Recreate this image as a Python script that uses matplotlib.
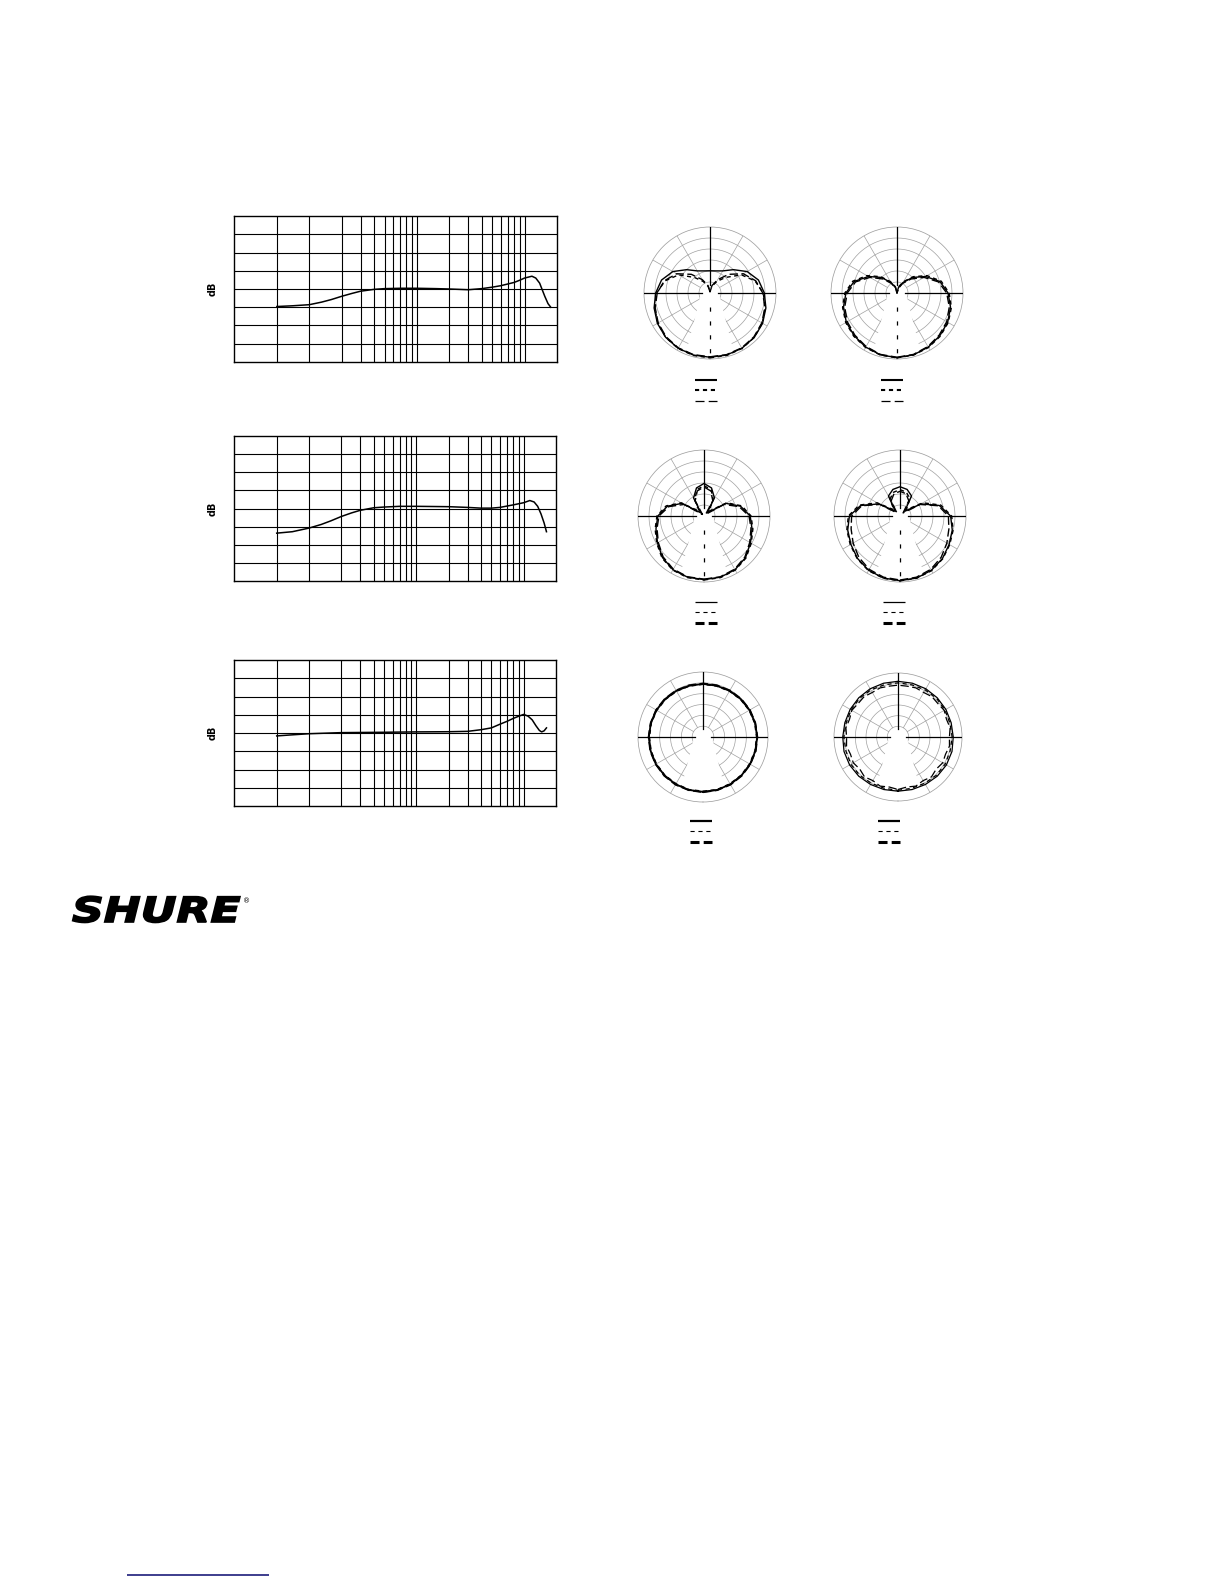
import numpy as np
import matplotlib
matplotlib.use("Agg")
import matplotlib.pyplot as plt
import matplotlib.patheffects as pe
from matplotlib.transforms import Affine2D

plt.rcParams["lines.scale_dashes"] = False

W, H = 1224, 1584
GREY = "#a0a0a0"

# ---- frequency response curves (Hz, dB) ----
freq_1 = [50, 70, 100, 130, 160, 200, 250, 300, 400, 500, 700, 1000, 1500, 2000,
          3000, 4000, 5000, 6000, 8000, 9000, 10000, 11700, 12700, 13800, 15400, 16500, 17500]
db_1 = [-4.8, -4.6, -4.3, -3.6, -2.9, -2.0, -1.2, -0.6, -0.1, 0.1, 0.2, 0.2, 0.1, 0.0,
        -0.2, 0.1, 0.5, 0.9, 1.8, 2.4, 3.0, 3.5, 3.0, 1.6, -2.0, -4.0, -5.0]

freq_2 = [50, 70, 100, 130, 160, 200, 250, 300, 400, 500, 700, 1000, 2000, 3000,
          4000, 5000, 6000, 8000, 10000, 11400, 12500, 13500, 14500, 15500, 16300]
db_2 = [-6.8, -6.4, -5.4, -4.4, -3.4, -2.2, -1.2, -0.5, 0.2, 0.4, 0.6, 0.6, 0.5, 0.3,
        0.1, 0.1, 0.3, 1.0, 1.6, 2.2, 1.8, 0.6, -1.5, -4.0, -6.4]

freq_3 = [50, 70, 100, 200, 500, 1000, 2000, 3000, 4000, 5000, 6000, 7000, 8000,
          9000, 10000, 11000, 12000, 13000, 14000, 14700, 15500, 16300]
db_3 = [-0.8, -0.5, -0.2, 0.1, 0.2, 0.3, 0.35, 0.45, 0.9, 1.4, 2.4, 3.2, 4.0,
        4.6, 5.1, 4.6, 3.6, 2.0, 0.7, 0.3, 0.6, 1.4]

grid_freqs = [50, 100, 200, 300, 400, 500, 600, 700, 800, 900,
              1000, 2000, 3000, 4000, 5000, 6000, 7000, 8000, 9000, 10000]
grid_db = [-15, -10, -5, 0, 5, 10, 15]

# ---- polar patterns: dB vs angle from front (0 = bottom), one half ----
angles = [0, 15, 30, 45, 60, 75, 90, 105, 120, 135, 150, 165, 180]

p1_a = [-0.8, -0.8, -1.0, -1.5, -2.4, -3.7, -5.3, -7.2, -10.5, -15.0, -18.4, -19.6, -19.9]
p1_b = [-0.5, -0.6, -0.9, -1.5, -2.6, -4.0, -5.8, -8.8, -13.5, -20.0, -24.0, -27.0, -29.5]
p1_c = [-1.0, -1.0, -1.2, -1.8, -2.8, -4.2, -6.0, -8.5, -12.5, -18.0, -23.0, -26.5, -29.5]

p2_a = [-0.6, -0.9, -1.6, -2.5, -3.4, -4.8, -6.8, -9.8, -15.0, -20.0, -24.5, -27.5, -30.0]
p2_b = [-0.5, -0.8, -1.4, -2.2, -3.1, -4.4, -6.3, -9.2, -14.2, -19.5, -24.0, -27.0, -30.0]
p2_c = [-0.8, -1.1, -1.9, -2.9, -3.9, -5.4, -7.4, -10.5, -15.8, -21.0, -25.0, -28.0, -30.0]

p3_a = [-1.1, -1.2, -1.8, -3.3, -5.6, -7.4, -9.0, -12.8, -18.5, -28.0, -20.5, -16.8, -15.2]
p3_b = [-0.9, -1.0, -1.6, -3.0, -5.2, -7.0, -8.6, -12.2, -18.0, -27.0, -21.5, -17.6, -16.2]
p3_c = [-1.3, -1.4, -2.1, -3.7, -6.0, -7.9, -9.5, -13.5, -19.5, -29.0, -22.0, -18.2, -16.8]

p4_a = [-0.6, -0.8, -1.5, -2.7, -4.2, -5.4, -7.0, -11.5, -19.0, -27.0, -19.5, -17.5, -16.7]
p4_b = [-0.5, -0.7, -1.3, -2.5, -3.9, -5.0, -6.5, -10.8, -18.0, -26.0, -21.0, -18.8, -18.0]
p4_c = [-0.9, -1.2, -2.0, -3.5, -5.4, -7.0, -8.0, -12.0, -19.5, -28.0, -22.0, -19.5, -18.8]

p5_a = [-4.7, -4.7, -4.8, -4.9, -4.9, -5.0, -5.0, -5.1, -5.2, -5.3, -5.4, -5.5, -5.5]
p5_b = [-4.9, -4.8, -5.0, -5.0, -5.1, -5.1, -5.2, -5.2, -5.3, -5.4, -5.5, -5.6, -5.6]
p5_c = [-4.5, -4.6, -4.6, -4.7, -4.8, -4.8, -4.9, -5.0, -5.0, -5.1, -5.2, -5.3, -5.3]

p6_a = [-4.6, -4.5, -4.3, -4.0, -3.8, -3.8, -4.1, -4.2, -4.1, -4.0, -3.9, -3.9, -3.9]
p6_b = [-5.0, -5.1, -5.0, -4.6, -4.5, -4.7, -4.6, -4.8, -4.6, -4.4, -4.5, -4.7, -4.6]
angles_fine = [0, 10, 20, 30, 40, 50, 60, 70, 80, 90, 100, 110, 120, 130, 140, 150, 160, 170, 180]
p6_c = [-5.4, -6.2, -5.5, -6.4, -5.6, -6.6, -5.8, -6.3, -5.5, -5.9, -5.2, -5.8, -5.0,
        -5.6, -5.3, -5.9, -5.5, -5.8, -5.7]

ring_db = [-25, -20, -15, -10, -5]
spoke_deg = [30, 60, 120, 150, 210, 240, 300, 330]

fig = plt.figure(figsize=(W / 100, H / 100), dpi=100)
fig.patch.set_facecolor("white")

page = fig.add_axes([0, 0, 1, 1])
page.set_xlim(0, W)
page.set_ylim(H, 0)
page.axis("off")


def px_axes(x0, y0, x1, y1, **kw):
    return fig.add_axes([x0 / W, 1 - y1 / H, (x1 - x0) / W, (y1 - y0) / H], **kw)


def freq_chart(box, f, db):
    ax = px_axes(*box)
    ax.set_xscale("log")
    ax.set_xlim(20, 20000)
    ax.set_ylim(-20, 20)
    for g in grid_freqs:
        ax.axvline(g, color="black", lw=0.8)
    for g in grid_db:
        ax.axhline(g, color="black", lw=0.8)
    ax.plot(f, db, color="black", lw=1.1)
    ax.set_xticks([])
    ax.set_yticks([])
    ax.minorticks_off()
    for s in ax.spines.values():
        s.set_linewidth(1.0)
    ax.text(-0.065, 0.5, "dB", transform=ax.transAxes, rotation=90,
            ha="center", va="center", fontsize=7, fontweight="bold")


def full_circle(ang, vals):
    t = np.deg2rad(list(ang) + [360 - a for a in ang[-2::-1]])
    v = list(vals) + list(vals[-2::-1])
    return t, v


def polar_chart(cx, cy, R, curves, lower_axis, lw):
    ax = px_axes(cx - R, cy - R, cx + R, cy + R, projection="polar")
    ax.set_theta_zero_location("S")
    ax.set_ylim(-30, 0)
    ax.set_xticks([])
    ax.set_yticks([])
    ax.grid(False)
    ax.spines["polar"].set_color(GREY)
    ax.spines["polar"].set_linewidth(0.55)

    def to_db(px):
        return -30 + 30 * np.asarray(px, dtype=float) / R

    t = np.linspace(0, 2 * np.pi, 361)
    for r in ring_db:
        ax.plot(t, np.full_like(t, r), color=GREY, lw=0.5, zorder=1)
    for a in spoke_deg:
        ax.plot(np.deg2rad([a, a]), [ring_db[0], 0], color=GREY, lw=0.5, zorder=1)

    # white keyhole left where the scale labels were
    kx = np.array([-8.0, 8.0, 24.0, -24.0])
    ky = np.array([-3.0, -3.0, 60.0, 60.0])
    ax.fill(np.arctan2(kx, ky), to_db(np.hypot(kx, ky)), color="white", lw=0, zorder=2)
    ax.fill(t, np.full_like(t, float(to_db(8))), color="white", lw=0, zorder=2)

    for a in (90, 180, 270):
        ax.plot(np.deg2rad([a, a]), [to_db(8), 0], color="black", lw=0.9, zorder=4)
    if lower_axis:
        ax.plot([0, 0], [to_db(14), 0], color="black", lw=0.9,
                ls=(0, (3, 7)), zorder=4)

    styles = ["-", (0, (3, 2.5)), (0, (6, 2.5))]
    for (ang, vals), ls in zip(curves, styles):
        th, v = full_circle(ang, vals)
        ax.plot(th, v, color="black", lw=lw, ls=ls, zorder=3)
    return ax


def legend(x0, y0, styles):
    for i, (ls, w) in enumerate(styles):
        page.plot([x0, x0 + 22], [y0 + 10.3 * i] * 2, color="black", ls=ls, lw=w,
                  solid_capstyle="butt", dash_capstyle="butt")


class Stretch(pe.AbstractPathEffect):
    """Widen text horizontally and give it a heavier outline."""

    def __init__(self, sx, width):
        super().__init__()
        self.sx = sx
        self.width = width

    def draw_path(self, renderer, gc, tpath, affine, rgbFace=None):
        gc0 = renderer.new_gc()
        gc0.copy_properties(gc)
        gc0.set_linewidth(self.width)
        gc0.set_foreground("black")
        gc0.set_joinstyle("miter")
        renderer.draw_path(gc0, tpath, Affine2D().scale(self.sx, 1) + affine, rgbFace)
        gc0.restore()


freq_chart((234, 216, 557, 362), freq_1, db_1)
freq_chart((234, 436, 556, 581), freq_2, db_2)
freq_chart((234, 660, 556, 806), freq_3, db_3)

polar_chart(710, 293, 66, [(angles, p1_a), (angles, p1_b), (angles, p1_c)], True, 1.0)
polar_chart(897, 293, 66, [(angles, p2_a), (angles, p2_b), (angles, p2_c)], True, 1.0)
polar_chart(704, 516, 66, [(angles, p3_a), (angles, p3_b), (angles, p3_c)], True, 1.0)
polar_chart(900, 516, 66, [(angles, p4_a), (angles, p4_b), (angles, p4_c)], True, 1.0)
polar_chart(703, 737, 65, [(angles, p5_a), (angles, p5_b), (angles, p5_c)], False, 1.3)
polar_chart(898, 737, 64, [(angles, p6_a), (angles, p6_b), (angles_fine, p6_c)], False, 0.9)

short = (0, (3, 2.7))
long_ = (0, (6.5, 3))
row1 = [("-", 1.5), (short, 1.5), (long_, 0.9)]
row2 = [("-", 0.9), (short, 0.8), (long_, 2.2)]
row3 = [("-", 1.6), (short, 0.8), (long_, 2.2)]
legend(695, 380, row1)
legend(881, 380, row1)
legend(695, 602, row2)
legend(883, 602, row2)
legend(690, 821, row3)
legend(878, 821, row3)

# logo and link underline
page.text(72, 922, "SHURE", fontsize=25, fontweight="bold", fontstyle="italic",
          family="DejaVu Sans", ha="left", va="baseline", color="black",
          path_effects=[Stretch(1.27, 1.2)])
page.text(243, 901, "®", fontsize=5, ha="left", va="center", color="black")
page.plot([127, 269], [1575, 1575], color="#1c1c7a", lw=1.2, solid_capstyle="butt")

fig.savefig("out.png", dpi=100, facecolor="white")
